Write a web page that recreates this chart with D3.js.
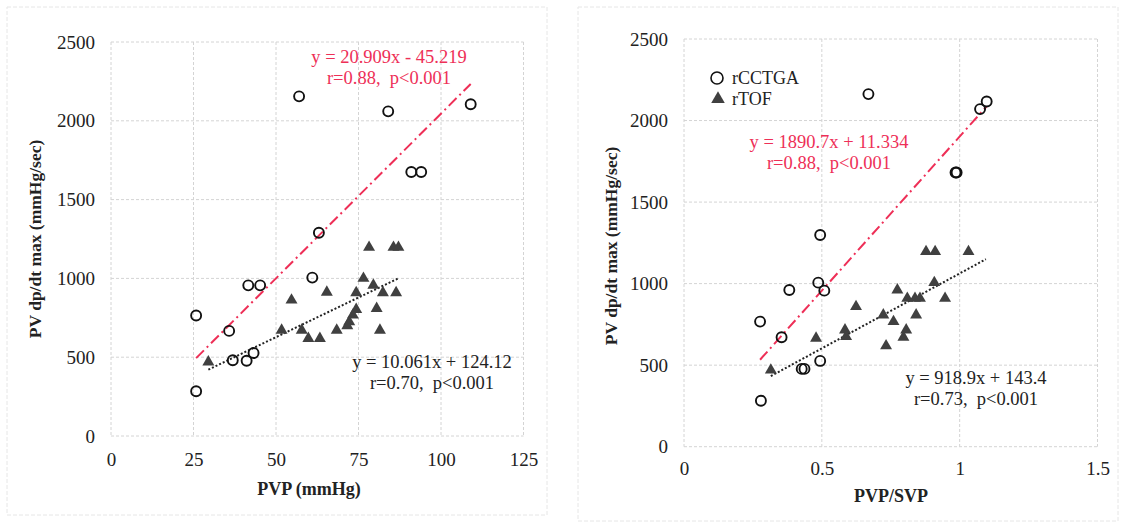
<!DOCTYPE html>
<html>
<head>
<meta charset="utf-8">
<script src="https://cdn.jsdelivr.net/npm/d3@7"></script>
<style>
  body { margin: 0; background: #fff; }
  svg text { font-family: "Liberation Serif", "Times New Roman", serif; }
</style>
</head>
<body>
<svg id="chart" width="1121" height="525"></svg>
<script>
// ---- data ----
// left panel: PVP (mmHg) vs PV dp/dt max
var leftCircleX = [57, 84, 109, 91, 94, 63, 61, 41.6, 45.2, 25.8, 35.8, 36.9, 41.1, 43.2, 25.8];
var leftCircleY = [2155, 2060, 2105, 1675, 1675, 1290, 1005, 956, 956, 765, 667, 481, 477, 527, 284];
var leftTriX = [29.5, 51.7, 54.7, 57.8, 59.8, 63.3, 65.4, 68.4, 71.6, 72.2, 73.3, 74.3, 74.3, 76.5, 78.2, 79.5, 80.5, 81.5, 82.4, 85.6, 87.1, 86.4];
var leftTriY = [470, 671, 862, 671, 619, 619, 912, 671, 700, 724, 767, 803, 909, 1000, 1197, 957, 809, 671, 909, 1197, 1197, 909];

// right panel: PVP/SVP vs PV dp/dt max
var rightCircleX = [0.669, 1.098, 1.074, 0.989, 0.985, 0.494, 0.487, 0.509, 0.382, 0.276, 0.354, 0.427, 0.437, 0.494, 0.279];
var rightCircleY = [2162, 2117, 2070, 1681, 1681, 1298, 1006, 957, 961, 767, 671, 477, 477, 526, 282];
var rightTriX = [0.315, 0.479, 0.584, 0.588, 0.624, 0.723, 0.733, 0.760, 0.774, 0.796, 0.806, 0.810, 0.838, 0.842, 0.856, 0.878, 0.908, 0.911, 0.947, 1.032];
var rightTriY = [470, 665, 716, 675, 859, 808, 618, 767, 961, 671, 716, 910, 910, 808, 910, 1196, 1006, 1196, 910, 1196];

// regression lines: [slope, intercept] and x range
var leftFitCCTGA = [20.909, -45.219];
var leftFitTOF = [10.061, 124.12];
var rightFitCCTGA = [1890.7, 11.334];
var rightFitTOF = [918.9, 143.4];
var leftRangeCCTGA = [25.8, 109];
var leftRangeTOF = [29.5, 87.1];
var rightRangeCCTGA = [0.276, 1.098];
var rightRangeTOF = [0.315, 1.095];

var yTicks = [0, 500, 1000, 1500, 2000, 2500];
var leftXTicks = [0, 25, 50, 75, 100, 125];
var rightXTicks = [0, 0.5, 1, 1.5];

var leftLabels = {
    red: ["y = 20.909x - 45.219", "r=0.88,  p<0.001"],
    black: ["y = 10.061x + 124.12", "r=0.70,  p<0.001"]
};
var rightLabels = {
    red: ["y = 1890.7x + 11.334", "r=0.88,  p<0.001"],
    black: ["y = 918.9x + 143.4", "r=0.73,  p<0.001"]
};
var legendNames = ["rCCTGA", "rTOF"];

var redColor = "#ee2f57";
var triColor = "#404040";
var gridColor = "#d4d4d4";

var svg = d3.select("#chart");

function drawPanel(p) {
    var g = svg.append("g");

    // faint outer frame
    g.append("rect")
        .attr("x", p.frame[0]).attr("y", p.frame[1])
        .attr("width", p.frame[2]).attr("height", p.frame[3])
        .attr("fill", "none")
        .attr("stroke", "#e6e6e6")
        .attr("stroke-dasharray", "4,2");

    var x = d3.scaleLinear().domain(p.xDomain).range([p.left, p.right]);
    var y = d3.scaleLinear().domain([0, 2500]).range([p.bottom, p.top]);

    // grid
    g.selectAll(".vgrid").data(p.xTicks).enter().append("line")
        .attr("x1", function (d) { return x(d); })
        .attr("x2", function (d) { return x(d); })
        .attr("y1", p.top).attr("y2", p.bottom)
        .attr("stroke", gridColor).attr("stroke-dasharray", "3,2");
    g.selectAll(".hgrid").data(yTicks).enter().append("line")
        .attr("x1", p.left).attr("x2", p.right)
        .attr("y1", function (d) { return y(d); })
        .attr("y2", function (d) { return y(d); })
        .attr("stroke", gridColor).attr("stroke-dasharray", "3,2");

    // axes via d3 axis, lines hidden
    var xAxis = g.append("g")
        .attr("transform", "translate(0," + p.bottom + ")")
        .call(d3.axisBottom(x).tickValues(p.xTicks).tickSize(0).tickPadding(p.xPad)
            .tickFormat(function (d) { return String(d); }));
    var yAxis = g.append("g")
        .attr("transform", "translate(" + p.left + ",0)")
        .call(d3.axisLeft(y).tickValues(yTicks).tickSize(0).tickPadding(p.yPad)
            .tickFormat(function (d) { return String(d); }));
    [xAxis, yAxis].forEach(function (a) {
        a.select(".domain").remove();
        a.selectAll("text")
            .attr("font-size", 19)
            .attr("fill", "#222");
    });

    // axis titles
    g.append("text")
        .attr("x", p.xTitle[0]).attr("y", p.xTitle[1])
        .attr("text-anchor", "middle")
        .attr("font-size", 18).attr("font-weight", "bold").attr("fill", "#222")
        .text(p.xTitleText);
    g.append("text")
        .attr("transform", "translate(" + p.yTitle[0] + "," + p.yTitle[1] + ") rotate(-90)")
        .attr("text-anchor", "middle")
        .attr("font-size", 17.5).attr("font-weight", "bold").attr("fill", "#222")
        .text("PV dp/dt max (mmHg/sec)");

    // fit lines
    function fitLine(fit, range, color, dash) {
        g.append("line")
            .attr("x1", x(range[0])).attr("y1", y(fit[0] * range[0] + fit[1]))
            .attr("x2", x(range[1])).attr("y2", y(fit[0] * range[1] + fit[1]))
            .attr("stroke", color).attr("stroke-width", 2)
            .attr("stroke-dasharray", dash);
    }
    fitLine(p.fitC, p.rangeC, redColor, "11,4,2,4");
    fitLine(p.fitT, p.rangeT, "#222", "2,2");

    // triangles
    var tri = d3.symbol().type(d3.symbolTriangle).size(62);
    g.selectAll(".tri").data(d3.range(p.triX.length)).enter().append("path")
        .attr("d", tri)
        .attr("transform", function (i) {
            return "translate(" + x(p.triX[i]) + "," + y(p.triY[i]) + ")";
        })
        .attr("fill", triColor);

    // circles
    g.selectAll(".circ").data(d3.range(p.circX.length)).enter().append("circle")
        .attr("cx", function (i) { return x(p.circX[i]); })
        .attr("cy", function (i) { return y(p.circY[i]); })
        .attr("r", 5)
        .attr("fill", "none")
        .attr("stroke", "#111")
        .attr("stroke-width", 1.9);

    // fit labels
    function label(lines, pos, color) {
        lines.forEach(function (t, k) {
            g.append("text")
                .attr("x", pos[0]).attr("y", pos[1] + k * 21)
                .attr("text-anchor", "middle")
                .attr("dominant-baseline", "central")
                .attr("font-size", 18.5).attr("fill", color)
                .attr("xml:space", "preserve")
                .text(t);
        });
    }
    label(p.labels.red, p.redPos, redColor);
    label(p.labels.black, p.blackPos, "#222");

    return { g: g, x: x, y: y };
}

drawPanel({
    frame: [7, 7, 540, 508],
    xDomain: [0, 125], left: 111, right: 523.5, top: 42, bottom: 436,
    xTicks: leftXTicks, xPad: 17, yPad: 16,
    xTitle: [309, 495], xTitleText: "PVP (mmHg)", yTitle: [41, 239],
    circX: leftCircleX, circY: leftCircleY, triX: leftTriX, triY: leftTriY,
    fitC: leftFitCCTGA, rangeC: leftRangeCCTGA, fitT: leftFitTOF, rangeT: leftRangeTOF,
    labels: leftLabels, redPos: [389, 57], blackPos: [432, 362]
});

var right = drawPanel({
    frame: [578, 7, 540, 514],
    xDomain: [0, 1.5], left: 684, right: 1097.5, top: 39, bottom: 446.7,
    xTicks: rightXTicks, xPad: 15, yPad: 16,
    xTitle: [891, 502], xTitleText: "PVP/SVP", yTitle: [617, 246],
    circX: rightCircleX, circY: rightCircleY, triX: rightTriX, triY: rightTriY,
    fitC: rightFitCCTGA, rangeC: rightRangeCCTGA, fitT: rightFitTOF, rangeT: rightRangeTOF,
    labels: rightLabels, redPos: [829, 142], blackPos: [976, 378]
});

// legend (right panel)
var legend = right.g.append("g").attr("transform", "translate(717,78)");
legend.append("circle").attr("r", 6).attr("fill", "none")
    .attr("stroke", "#111").attr("stroke-width", 1.6);
legend.append("path").attr("d", d3.symbol().type(d3.symbolTriangle).size(80))
    .attr("transform", "translate(1,21)").attr("fill", triColor);
legend.selectAll(".lt").data(legendNames).enter().append("text")
    .attr("x", 15).attr("y", function (d, i) { return i * 21; })
    .attr("dominant-baseline", "central")
    .attr("font-size", 18).attr("fill", "#222")
    .text(function (d) { return d; });
</script>
</body>
</html>
